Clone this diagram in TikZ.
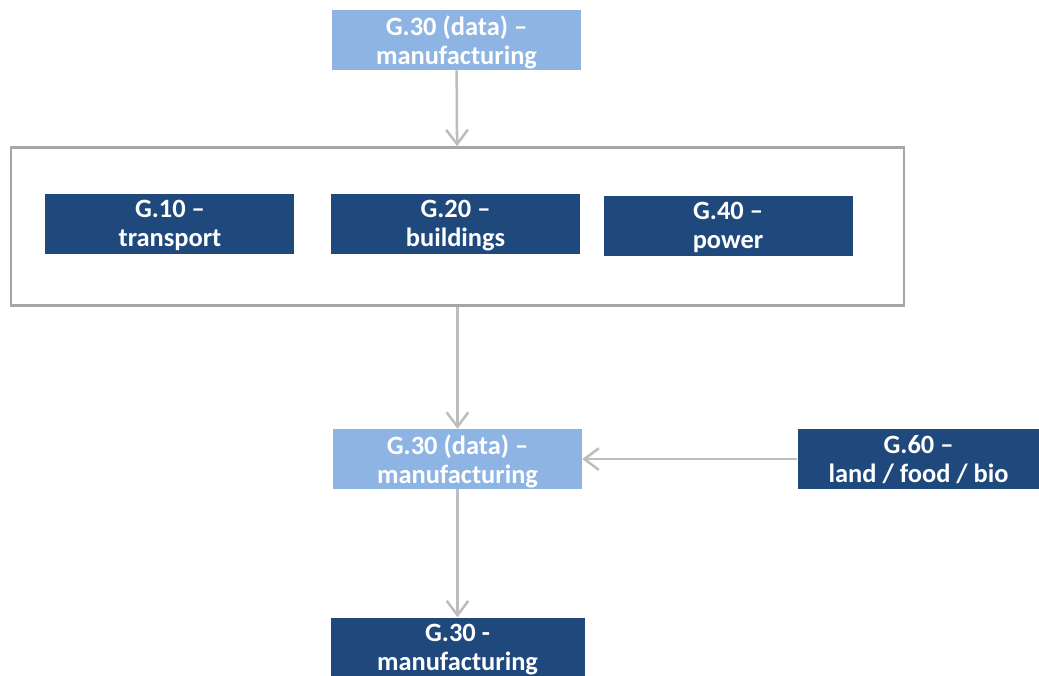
\documentclass[tikz,border=0pt]{standalone}
\usepackage{fontspec}
\setmainfont{Carlito}
\usetikzlibrary{
    arrows.meta,
    positioning
}
\definecolor{sectlight}{HTML}{8EB4E3}
\definecolor{sectdark}{HTML}{1F497D}
\definecolor{linkgray}{HTML}{BDBDBD}
\definecolor{framegray}{HTML}{A6A6A6}

\begin{document}
\begin{tikzpicture}[
    font=\fontsize{18.8}{20.8}\selectfont\bfseries,
    every node/.style={text=white},
    sector/.style={
        rectangle,
        minimum width=6.225cm,
        minimum height=1.5cm,
        align=center,
        inner sep=0pt,
        text depth=0pt,
        fill=#1
    },
    frame/.style={
        rectangle,
        minimum width=22.325cm,
        minimum height=3.95cm,
        draw=framegray,
        line width=1.8pt
    },
    arrow/.style={
        -{Straight Barb[length=3.6mm,width=5.4mm,line width=1.8pt]},
        line width=1.8pt,
        draw=linkgray
    }
]

\useasboundingbox (0,0) rectangle (25.975,-16.9);

% =====================================================
% Top row
% =====================================================

\node[sector=sectlight] (data1) at (11.4125,-1)
{G.30 (data) --\\manufacturing};

\node[frame, below=1.9cm of data1.south, anchor=north, xshift=0.025cm] (group) {};

\node[sector=sectdark, yshift=0.075cm, xshift=-0.05cm] (buildings) at (group.center)
{G.20 --\\buildings};

\node[sector=sectdark, left=0.9cm of buildings] (transport)
{G.10 --\\transport};

\node[sector=sectdark, right=0.575cm of buildings, yshift=-0.05cm] (power)
{G.40 --\\power};

% =====================================================
% Bottom rows
% =====================================================

\node[sector=sectlight, below=3.05cm of group.south, anchor=north] (data2)
{G.30 (data) --\\manufacturing};

\node[sector=sectdark, minimum width=6.05cm, right=5.375cm of data2] (land)
{G.60 --\\land / food / bio};

\node[sector=sectdark, minimum width=6.35cm, below=3.2cm of data2] (manuf)
{G.30 -\\manufacturing};

% =====================================================
% Arrows
% =====================================================

\draw[arrow] (data1) -- (group);
\draw[arrow] (group) -- (data2);
\draw[arrow] (land) -- (data2);
\draw[arrow] (data2) -- (manuf);

\end{tikzpicture}
\end{document}
